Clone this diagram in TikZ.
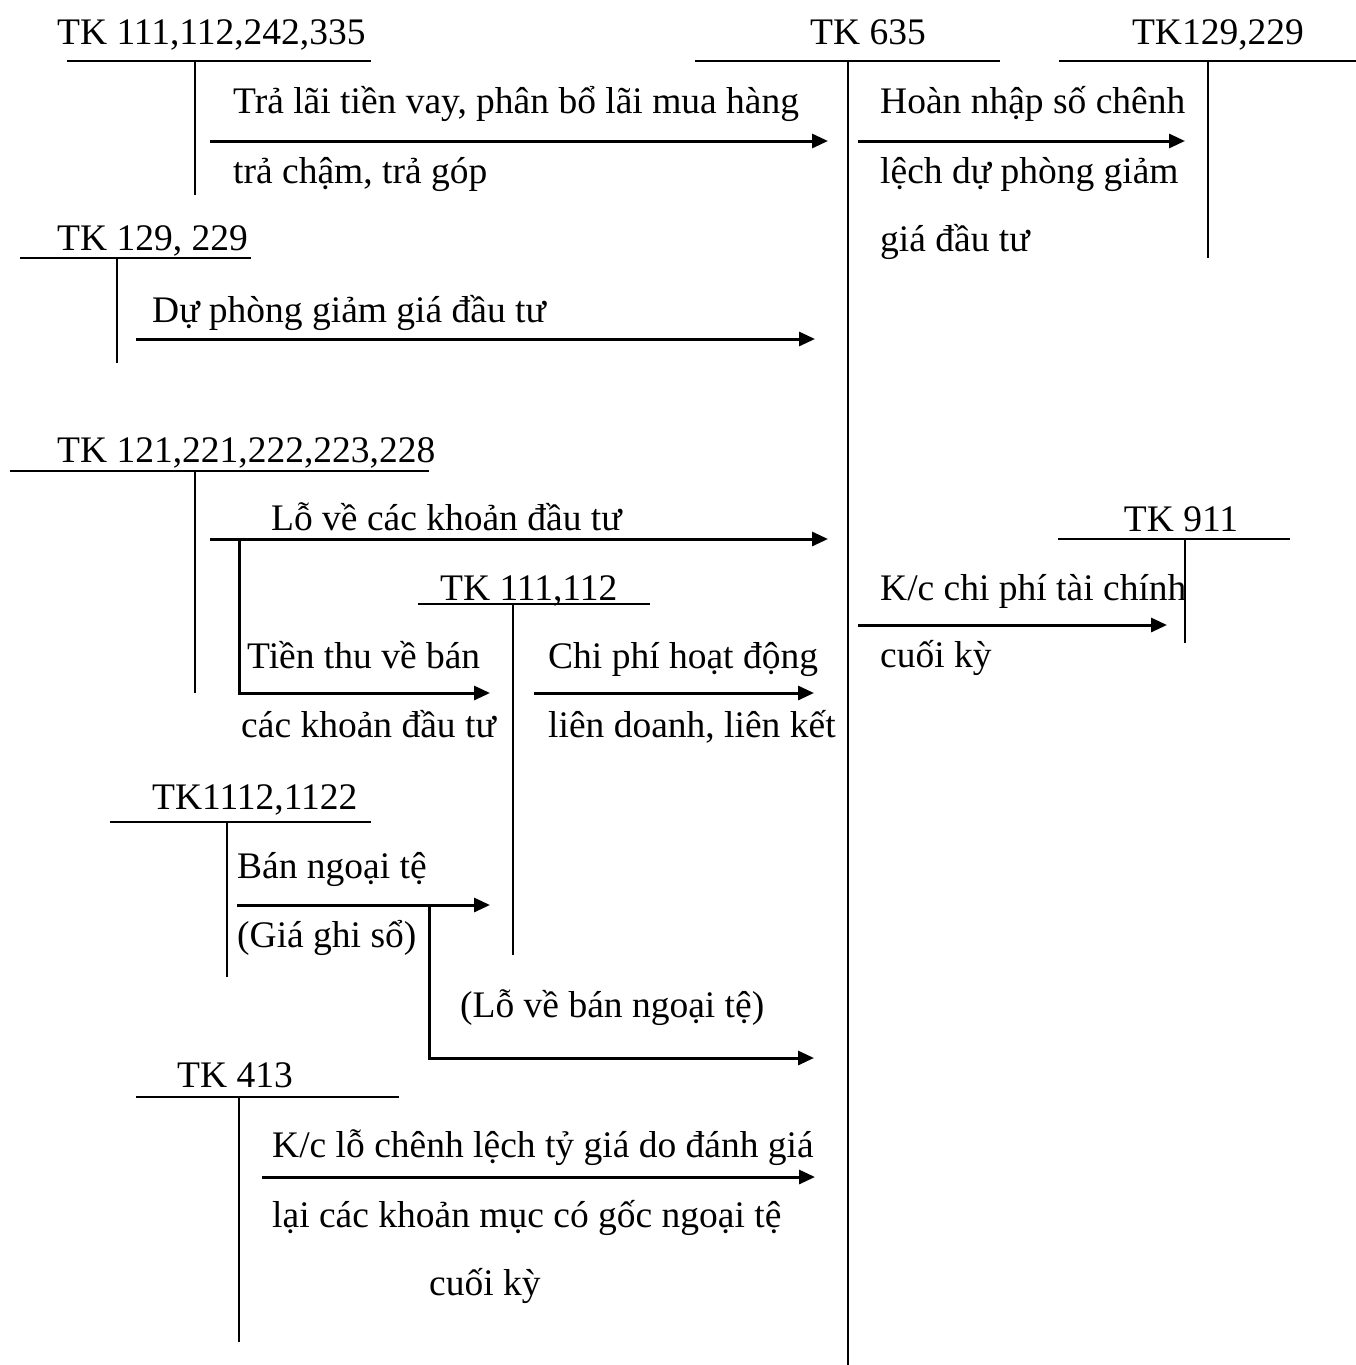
\documentclass[tikz,border=0pt]{standalone}
\usepackage{fontspec}
\setmainfont{Liberation Serif}
\usetikzlibrary{arrows.meta}
\begin{document}
\begin{tikzpicture}[x=1pt,y=-1pt,
  lbl/.style={anchor=base west,inner sep=0pt,font=\fontsize{37.5}{42}\selectfont},
  tline/.style={line width=2pt},
  flow/.style={line width=3pt,-{Triangle[length=16pt,width=14pt]}}]
\useasboundingbox (0,0) rectangle (1356,1365);

% ---- T-account TK 111,112,242,335
\node[lbl] (tA) at (57,44) {TK 111,112,242,335};
\draw[tline] (67,61) -- (371,61);
\draw[tline] (195,61) -- (195,195);

% ---- TK 635
\node[lbl,anchor=base] (tK) at (868,44) {TK 635};
\draw[tline] (695,61) -- (1000,61);
\draw[tline] (848,61) -- (848,1365);

% ---- TK129,229 (right)
\node[lbl,anchor=base] (tR) at (1218,44) {TK129,229};
\draw[tline] (1059,61) -- (1356,61);
\draw[tline] (1208,61) -- (1208,258);

% arrow 1
\coordinate (a1s) at (210,141); \coordinate (a1e) at (828,141);
\draw[flow] (a1s) -- (a1e);
\node[lbl] (l1a) at (233,113) {Trả lãi tiền vay, phân bổ lãi mua hàng};
\node[lbl] (l1b) at (233,183) {trả chậm, trả góp};

% arrow Hoàn nhập
\coordinate (a2s) at (858,141); \coordinate (a2e) at (1185,141);
\draw[flow] (a2s) -- (a2e);
\node[lbl] (l2a) at (880,113) {Hoàn nhập số chênh};
\node[lbl] (l2b) at (880,183) {lệch dự phòng giảm};
\node[lbl] (l2c) at (880,251) {giá đầu tư};

% ---- TK 129, 229 (left)
\node[lbl] (tB) at (57,250) {TK 129, 229};
\draw[tline] (20,258) -- (251,258);
\draw[tline] (117,258) -- (117,363);
\coordinate (a3s) at (136,339); \coordinate (a3e) at (815,339);
\draw[flow] (a3s) -- (a3e);
\node[lbl] (l3) at (152,322) {Dự phòng giảm giá đầu tư};

% ---- TK 121,221,...
\node[lbl] (tC) at (57,462) {TK 121,221,222,223,228};
\draw[tline] (10,471) -- (429,471);
\draw[tline] (195,471) -- (195,693);
\coordinate (a4s) at (210,539); \coordinate (a4e) at (828,539);
\draw[flow] (a4s) -- (a4e);
\node[lbl] (l4) at (271,530) {Lỗ về các khoản đầu tư};
\coordinate (b4s) at (239,539); \coordinate (b4e) at (490,693);
\draw[flow] (b4s) |- (b4e);
\node[lbl] (l5a) at (247,668) {Tiền thu về bán};
\node[lbl] (l5b) at (241,737) {các khoản đầu tư};

% ---- TK 111,112
\node[lbl] (tD) at (440,600) {TK 111,112};
\draw[tline] (418,604) -- (650,604);
\draw[tline] (513,604) -- (513,955);
\coordinate (a6s) at (534,693); \coordinate (a6e) at (814,693);
\draw[flow] (a6s) -- (a6e);
\node[lbl] (l6a) at (548,668) {Chi phí hoạt động};
\node[lbl] (l6b) at (548,737) {liên doanh, liên kết};

% ---- TK 911
\node[lbl,anchor=base] (tE) at (1181,531) {TK 911};
\draw[tline] (1058,539) -- (1290,539);
\draw[tline] (1185,539) -- (1185,643);
\coordinate (a7s) at (858,625); \coordinate (a7e) at (1167,625);
\draw[flow] (a7s) -- (a7e);
\node[lbl] (l7a) at (880,600) {K/c chi phí tài chính};
\node[lbl] (l7b) at (880,667) {cuối kỳ};

% ---- TK1112,1122
\node[lbl] (tF) at (152,809) {TK1112,1122};
\draw[tline] (110,822) -- (371,822);
\draw[tline] (227,822) -- (227,977);
\coordinate (a8s) at (237,905); \coordinate (a8e) at (490,905);
\draw[flow] (a8s) -- (a8e);
\node[lbl] (l8a) at (237,878) {Bán ngoại tệ};
\node[lbl] (l8b) at (237,947) {(Giá ghi sổ)};
\coordinate (b8s) at (429,905); \coordinate (b8e) at (814,1058);
\draw[flow] (b8s) |- (b8e);
\node[lbl] (l9) at (460,1017) {(Lỗ về bán ngoại tệ)};

% ---- TK 413
\node[lbl] (tG) at (177,1087) {TK 413};
\draw[tline] (136,1097) -- (399,1097);
\draw[tline] (239,1097) -- (239,1342);
\coordinate (a10s) at (262,1177); \coordinate (a10e) at (815,1177);
\draw[flow] (a10s) -- (a10e);
\node[lbl] (l10a) at (272,1157) {K/c lỗ chênh lệch tỷ giá do đánh giá};
\node[lbl] (l10b) at (272,1227) {lại các khoản mục có gốc ngoại tệ};
\node[lbl] (l10c) at (429,1295) {cuối kỳ};
\end{tikzpicture}
\end{document}
